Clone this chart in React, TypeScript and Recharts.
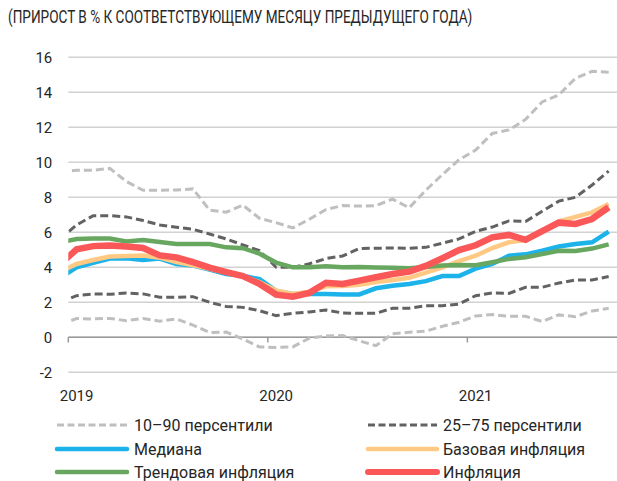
import React, { useLayoutEffect, useRef, useState } from 'react';
import { LineChart, Line, XAxis, YAxis, CartesianGrid, ReferenceLine, Legend } from 'recharts';

// Monthly observations (Dec 2018 is partly clipped at the left edge of the plot)
const months = [
  '2018-12',
  '2019-01', '2019-02', '2019-03', '2019-04', '2019-05', '2019-06', '2019-07', '2019-08', '2019-09', '2019-10', '2019-11', '2019-12',
  '2020-01', '2020-02', '2020-03', '2020-04', '2020-05', '2020-06', '2020-07', '2020-08', '2020-09', '2020-10', '2020-11', '2020-12',
  '2021-01', '2021-02', '2021-03', '2021-04', '2021-05', '2021-06', '2021-07', '2021-08', '2021-09',
];

const yearLabels = ['2019', '2020', '2021'];
const yearStartMonths = ['2019-01', '2020-01', '2021-01'];
const yTicks = [-2, 0, 2, 4, 6, 8, 10, 12, 14, 16];

const p10_90_high = [9.44, 9.55, 9.55, 9.65, 8.9, 8.4, 8.4, 8.42, 8.48, 7.26, 7.15, 7.55, 6.8, 6.55, 6.25, 6.75, 7.3, 7.53, 7.5, 7.52, 7.9, 7.4, 8.4, 9.3, 10.15, 10.7, 11.65, 11.85, 12.45, 13.45, 13.85, 14.8, 15.2, 15.15];
const p10_90_low = [0.73, 1.07, 1.05, 1.08, 0.95, 1.08, 0.92, 1.05, 0.7, 0.27, 0.3, -0.1, -0.55, -0.58, -0.55, -0.05, 0.07, 0.1, -0.2, -0.48, 0.2, 0.29, 0.35, 0.63, 0.86, 1.22, 1.3, 1.2, 1.2, 0.9, 1.28, 1.18, 1.5, 1.66];
const p25_75_high = [5.6, 6.42, 6.95, 6.95, 6.88, 6.67, 6.42, 6.29, 6.17, 5.9, 5.62, 5.28, 4.95, 4.0, 4.0, 4.2, 4.5, 4.65, 5.07, 5.09, 5.1, 5.09, 5.14, 5.38, 5.62, 6.05, 6.3, 6.65, 6.62, 7.2, 7.78, 8.0, 8.7, 9.5];
const p25_75_low = [2.0, 2.38, 2.48, 2.46, 2.53, 2.48, 2.29, 2.29, 2.32, 2.0, 1.76, 1.71, 1.52, 1.24, 1.37, 1.45, 1.56, 1.39, 1.37, 1.37, 1.66, 1.66, 1.81, 1.81, 1.9, 2.38, 2.53, 2.51, 2.86, 2.86, 3.1, 3.28, 3.28, 3.47];
const median = [3.4, 4.0, 4.25, 4.5, 4.52, 4.42, 4.5, 4.19, 4.1, 3.87, 3.62, 3.52, 3.32, 2.65, 2.48, 2.48, 2.48, 2.45, 2.45, 2.8, 2.95, 3.05, 3.21, 3.5, 3.5, 3.92, 4.19, 4.66, 4.74, 4.95, 5.19, 5.33, 5.43, 6.04];
const coreInflation = [3.75, 4.19, 4.42, 4.62, 4.65, 4.68, 4.55, 4.3, 4.12, 3.92, 3.7, 3.48, 3.15, 2.67, 2.48, 2.6, 2.91, 2.93, 3.0, 3.16, 3.28, 3.4, 3.7, 4.0, 4.35, 4.66, 5.1, 5.43, 5.55, 6.08, 6.62, 6.88, 7.14, 7.62];
const trendInflation = [5.42, 5.62, 5.64, 5.64, 5.47, 5.56, 5.45, 5.33, 5.33, 5.33, 5.14, 5.09, 4.78, 4.27, 4.0, 4.0, 4.06, 4.0, 4.02, 3.99, 3.97, 3.94, 4.02, 4.1, 4.13, 4.12, 4.29, 4.48, 4.57, 4.76, 4.94, 4.93, 5.07, 5.31];
const inflation = [4.17, 5.03, 5.21, 5.24, 5.19, 5.1, 4.68, 4.57, 4.29, 3.98, 3.73, 3.5, 3.05, 2.44, 2.32, 2.54, 3.12, 3.05, 3.24, 3.43, 3.62, 3.75, 4.08, 4.52, 4.98, 5.26, 5.71, 5.85, 5.57, 6.07, 6.55, 6.48, 6.76, 7.43];

const titleText = '(ПРИРОСТ В % К СООТВЕТСТВУЮЩЕМУ МЕСЯЦУ ПРЕДЫДУЩЕГО ГОДА)';

const FONT = 'Roboto, "Noto Sans", sans-serif';
const C_LIGHT = '#bfbfbf';
const C_DARK = '#626262';
const C_BLUE = '#1cb2ea';
const C_ORANGE = '#ffc983';
const C_GREEN = '#68a760';
const C_RED = '#fa5858';

// index position: Jan 2019 = 0
const indexOf = (m: string) => months.indexOf(m) - 1;

const data = months.map((m, i) => ({
  k: i - 1,
  month: m,
  p10_90_high: p10_90_high[i],
  p10_90_low: p10_90_low[i],
  p25_75_high: p25_75_high[i],
  p25_75_low: p25_75_low[i],
  median: median[i],
  core: coreInflation[i],
  trend: trendInflation[i],
  inflation: inflation[i],
}));

const xDomain = [-0.5, months.length - 2 + 0.5];
const yearTicks = yearStartMonths.map(indexOf);
const yearBoundaries = yearTicks.map((k) => k - 0.5);

const legendItems = [
  { label: '10–90 персентили', color: C_LIGHT, width: 3, dash: '7 3.5', col: 0, row: 0 },
  { label: '25–75 персентили', color: C_DARK, width: 3, dash: '7 3.5', col: 1, row: 0 },
  { label: 'Медиана', color: C_BLUE, width: 4.5, dash: undefined, col: 0, row: 1 },
  { label: 'Базовая инфляция', color: C_ORANGE, width: 4.5, dash: undefined, col: 1, row: 1 },
  { label: 'Трендовая инфляция', color: C_GREEN, width: 4.5, dash: undefined, col: 0, row: 2 },
  { label: 'Инфляция', color: C_RED, width: 6, dash: undefined, col: 1, row: 2 },
];

const LegendContent = () => {
  const colX = [[57, 127, 134], [368, 437, 443]];
  const rowY = [18, 42, 65];
  return (
    <svg width={617} height={74} style={{ display: 'block' }}>
      {legendItems.map((it) => {
        const [x1, x2, tx] = colX[it.col];
        const y = rowY[it.row];
        return (
          <g key={it.label}>
            <line x1={x1} x2={x2} y1={y} y2={y} stroke={it.color} strokeWidth={it.width}
              strokeDasharray={it.dash} strokeLinecap={it.dash ? 'butt' : 'round'} />
            <text x={tx} y={y + 6} fontFamily={FONT} fontSize={16} fill="#262626">{it.label}</text>
          </g>
        );
      })}
    </svg>
  );
};

const Title = () => {
  const ref = useRef<HTMLDivElement>(null);
  const [scale, setScale] = useState(1);
  useLayoutEffect(() => {
    if (ref.current) {
      const w = ref.current.scrollWidth;
      if (w > 0) setScale(464 / w);
    }
  }, []);
  return (
    <div style={{ position: 'absolute', left: 8, top: 5, height: 26, overflow: 'visible', zIndex: 2 }}>
      <div ref={ref} style={{
        display: 'inline-block', whiteSpace: 'nowrap', fontFamily: FONT, fontSize: 18, lineHeight: '24px',
        color: '#262626', transform: `scaleX(${scale})`, transformOrigin: 'left center',
      }}>
        {titleText}
      </div>
    </div>
  );
};

export default function App() {
  return (
    <div style={{ position: 'fixed', left: 0, top: 0, width: 617, height: 481, background: '#fff', fontFamily: FONT, overflow: 'hidden' }}>
      <Title />
      <LineChart width={617} height={481} data={data} margin={{ top: 57.3, right: 0, bottom: 0, left: 0 }}>
        <CartesianGrid vertical={false} stroke="#d2d2d2" strokeWidth={1.5} />
        <XAxis dataKey="k" type="number" domain={xDomain} allowDataOverflow ticks={yearTicks}
          tickFormatter={(v: number) => yearLabels[yearTicks.indexOf(v)] ?? ''}
          axisLine={false} tickLine={false} tickSize={0} tickMargin={17.7} height={34.7}
          tick={{ fontSize: 15, fill: '#262626', fontFamily: FONT }} interval={0} />
        <YAxis type="number" domain={[-2, 16]} ticks={yTicks} allowDataOverflow width={68.3}
          axisLine={false} tickLine={false} tickSize={0} tickMargin={16} interval={0}
          tick={{ fontSize: 15, fill: '#262626', fontFamily: FONT }} />
        <ReferenceLine y={0} stroke="#9a9a9a" strokeWidth={1.5} />
        {yearBoundaries.map((b) => (
          <ReferenceLine key={b} segment={[{ x: b, y: 0 }, { x: b, y: -0.3 }]} stroke="#9a9a9a" strokeWidth={1.5} ifOverflow="visible" />
        ))}
        <Legend verticalAlign="bottom" content={<LegendContent />} />
        <Line dataKey="p10_90_high" stroke={C_LIGHT} strokeWidth={3} strokeDasharray="8 4" dot={false} isAnimationActive={false} legendType="none" />
        <Line dataKey="p10_90_low" stroke={C_LIGHT} strokeWidth={3} strokeDasharray="8 4" dot={false} isAnimationActive={false} legendType="none" />
        <Line dataKey="p25_75_high" stroke={C_DARK} strokeWidth={3} strokeDasharray="8 4" dot={false} isAnimationActive={false} legendType="none" />
        <Line dataKey="p25_75_low" stroke={C_DARK} strokeWidth={3} strokeDasharray="8 4" dot={false} isAnimationActive={false} legendType="none" />
        <Line dataKey="median" stroke={C_BLUE} strokeWidth={4.5} dot={false} isAnimationActive={false} />
        <Line dataKey="core" stroke={C_ORANGE} strokeWidth={4.5} dot={false} isAnimationActive={false} />
        <Line dataKey="trend" stroke={C_GREEN} strokeWidth={4.5} dot={false} isAnimationActive={false} />
        <Line dataKey="inflation" stroke={C_RED} strokeWidth={6.5} dot={false} isAnimationActive={false} />
      </LineChart>
    </div>
  );
}
